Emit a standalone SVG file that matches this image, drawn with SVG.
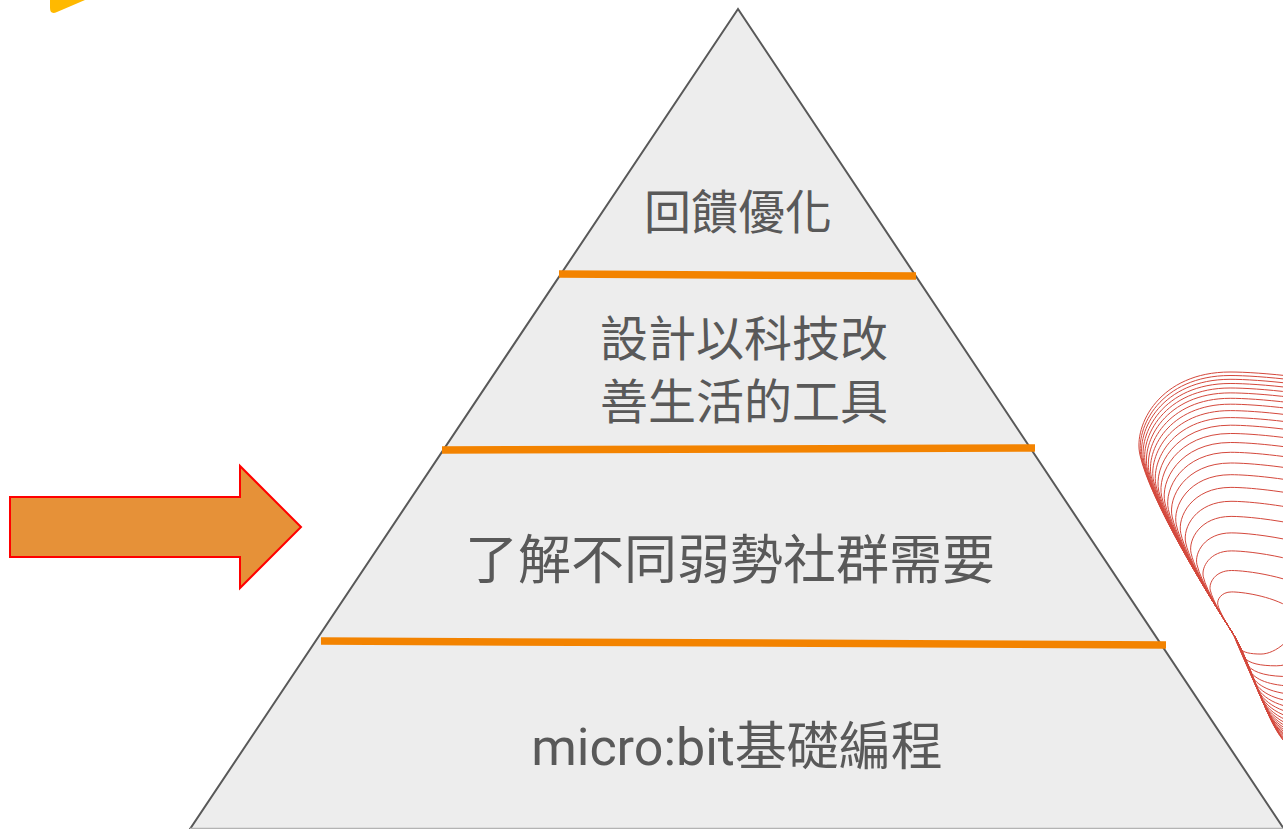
<svg xmlns="http://www.w3.org/2000/svg" width="1283" height="829" viewBox="0 0 1283 829">
  <style>
    .lbl { font-family: Roboto, "Noto Sans CJK TC", "Noto Sans", sans-serif; fill: #595959; text-anchor: middle; }
    .bar { stroke: #F38300; stroke-width: 7.5; fill: none; }
    .ring { fill: none; stroke: #D4483C; stroke-width: 1; }
  </style>
  <defs>
    <!-- one loop of the wire bowl; copies shrink towards the pinch point 1232,632 -->
    <path id="loop" vector-effect="non-scaling-stroke" d="M1232,632 C1205,590 1150,500 1140,455 C1133,425 1160,372 1230,372 C1290,372 1480,395 1610,475 C1740,555 1560,775 1420,775 C1350,775 1305,765 1283,740 C1265,718 1250,660 1232,632 Z"/>
  </defs>
  <rect width="1283" height="829" fill="#FFFFFF"/>

  <!-- corner accent -->
  <path id="accent" d="M50,0 L50,8 Q50,15 57,12 L85,0 Z" fill="#FFB900"/>

  <!-- decorative wire bowl -->
  <g id="rings" class="ring">
    <use href="#loop"/>
    <use href="#loop" transform="translate(1232 632) scale(0.9865) translate(-1232 -632)"/>
    <use href="#loop" transform="translate(1232 632) scale(0.9719) translate(-1232 -632)"/>
    <use href="#loop" transform="translate(1232 632) scale(0.9558) translate(-1232 -632)"/>
    <use href="#loop" transform="translate(1232 632) scale(0.9385) translate(-1232 -632)"/>
    <use href="#loop" transform="translate(1232 632) scale(0.9196) translate(-1232 -632)"/>
    <use href="#loop" transform="translate(1232 632) scale(0.8988) translate(-1232 -632)"/>
    <use href="#loop" transform="translate(1232 632) scale(0.8762) translate(-1232 -632)"/>
    <use href="#loop" transform="translate(1232 632) scale(0.8515) translate(-1232 -632)"/>
    <use href="#loop" transform="translate(1232 632) scale(0.8246) translate(-1232 -632)"/>
    <use href="#loop" transform="translate(1232 632) scale(0.7954) translate(-1232 -632)"/>
    <use href="#loop" transform="translate(1232 632) scale(0.7635) translate(-1232 -632)"/>
    <use href="#loop" transform="translate(1232 632) scale(0.7288) translate(-1232 -632)"/>
    <use href="#loop" transform="translate(1232 632) scale(0.6912) translate(-1232 -632)"/>
    <use href="#loop" transform="translate(1232 632) scale(0.65) translate(-1232 -632)"/>
    <use href="#loop" transform="translate(1232 632) scale(0.605) translate(-1232 -632)"/>
    <use href="#loop" transform="translate(1232 632) scale(0.5562) translate(-1232 -632)"/>
    <use href="#loop" transform="translate(1232 632) scale(0.5027) translate(-1232 -632)"/>
    <use href="#loop" transform="translate(1232 632) scale(0.4446) translate(-1232 -632)"/>
    <use href="#loop" transform="translate(1232 632) scale(0.3812) translate(-1232 -632)"/>
    <use href="#loop" transform="translate(1232 632) scale(0.3119) translate(-1232 -632)"/>
    <use href="#loop" transform="translate(1232 632) scale(0.2365) translate(-1232 -632)"/>
    <use href="#loop" transform="translate(1232 632) scale(0.1542) translate(-1232 -632)"/>
  </g>

  <!-- pyramid body -->
  <g id="pyramid">
    <polygon points="738,9 190,829 1284,829" fill="#EDEDED" stroke="#595959" stroke-width="2"/>
    <line x1="190" y1="828.5" x2="1283" y2="828.5" stroke="#B3B3B3" stroke-width="1.5"/>
  </g>

  <!-- level dividers -->
  <g id="dividers">
    <line class="bar" x1="559" y1="274" x2="916" y2="276"/>
    <line class="bar" x1="442" y1="450" x2="1035" y2="448"/>
    <line class="bar" x1="321" y1="641" x2="1166" y2="645"/>
  </g>

  <g id="level4"><text class="lbl" x="738" y="229" font-size="47">回饋優化</text></g>
  <g id="level3">
    <text class="lbl" x="744" y="356" font-size="48">設計以科技改</text>
    <text class="lbl" x="744" y="419" font-size="48">善生活的工具</text>
  </g>
  <g id="level2"><text class="lbl" x="730" y="579" font-size="53">了解不同弱勢社群需要</text></g>
  <g id="level1"><text class="lbl" x="737" y="765" font-size="52">micro:bit基礎編程</text></g>

  <!-- pointer arrow -->
  <g id="arrow">
    <polygon points="10,497 240,497 240,466 301,527 240,588 240,557 10,557" fill="#E69138" stroke="#FF0000" stroke-width="2"/>
  </g>
</svg>
